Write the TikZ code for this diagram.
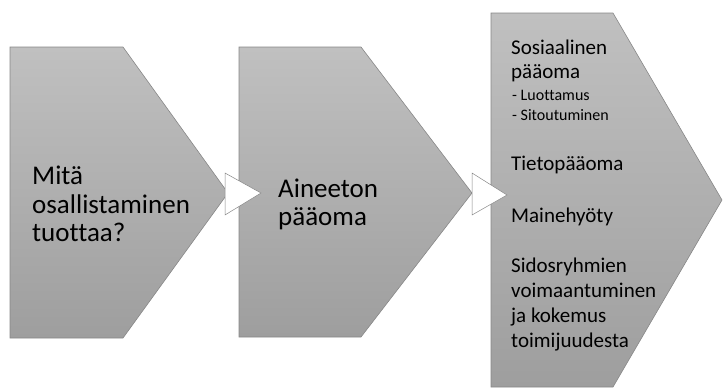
\documentclass[tikz,border=0pt]{standalone}
\usepackage{fontspec}
\setmainfont{Carlito}[Ligatures=NoCommon]
\definecolor{shadetop}{RGB}{192,192,192}
\definecolor{shadebot}{RGB}{158,158,158}
\definecolor{edgegrey}{RGB}{135,135,135}
\begin{document}
\begin{tikzpicture}[x=1pt,y=-1pt,
  stage/.style={draw=edgegrey, line width=0.6pt, top color=shadetop, bottom color=shadebot},
  joint/.style={draw=edgegrey, line width=0.5pt, fill=white},
  bigtxt/.style={anchor=base west, inner sep=0pt, font=\fontsize{27}{28}\selectfont},
  midtxt/.style={anchor=base west, inner sep=0pt, font=\fontsize{21}{24}\selectfont},
  smalltxt/.style={anchor=base west, inner sep=0pt, font=\fontsize{16}{18}\selectfont}]
\useasboundingbox (0,0) rectangle (723,389);

% three chevron stages
\draw[stage] (10,47) -- (123,47) -- (228,193) -- (123,338) -- (10,338) -- cycle;
\draw[stage] (239,47) -- (361,47) -- (472,193) -- (361,337) -- (239,337) -- cycle;
\draw[stage] (491,13) -- (613,13) -- (722,200) -- (613,387) -- (491,387) -- cycle;

% white arrowheads between the stages
\draw[joint] (225,173) -- (261,193) -- (225,215) -- cycle;
\draw[joint] (472,173) -- (507,195) -- (472,215) -- cycle;

% first stage
\node[bigtxt] (a1) at (32,184) {Mitä};
\node[bigtxt] (a2) at (32,213) {osallistaminen};
\node[bigtxt] (a3) at (32,241) {tuottaa?};

% second stage
\node[bigtxt] (b1) at (278,197) {Aineeton};
\node[bigtxt] (b2) at (278,225) {pääoma};

% third stage
\node[midtxt] (c1) at (511,54) {Sosiaalinen};
\node[midtxt] (c2) at (511,78) {pääoma};
\node[smalltxt] (c3) at (512,100) {- Luottamus};
\node[smalltxt] (c4) at (512,120) {- Sitoutuminen};
\node[midtxt] (c5) at (511,170) {Tietopääoma};
\node[midtxt] (c6) at (511,222) {Mainehyöty};
\node[midtxt] (c7) at (511,272) {Sidosryhmien};
\node[midtxt] (c8) at (511,297) {voimaantuminen};
\node[midtxt] (c9) at (511,322) {ja kokemus};
\node[midtxt] (c10) at (511,347) {toimijuudesta};
\end{tikzpicture}
\end{document}
